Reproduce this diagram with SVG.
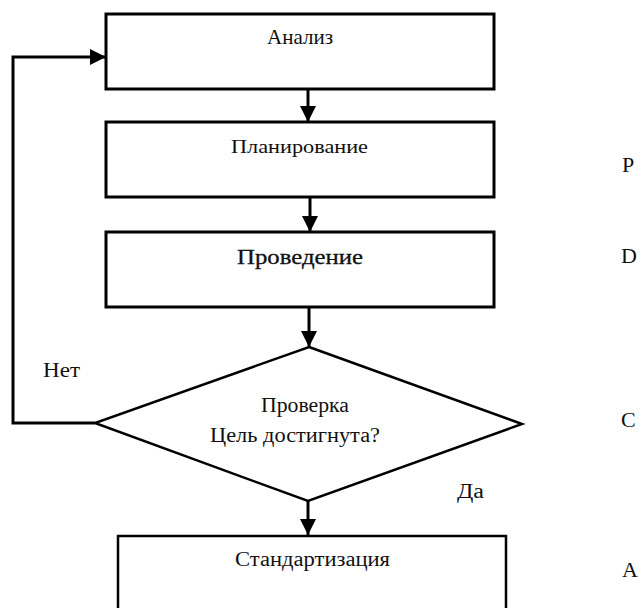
<svg xmlns="http://www.w3.org/2000/svg" width="644" height="608" viewBox="0 0 644 608">
<defs>
<style>
.box{fill:#fff;stroke:#000;stroke-width:3}
.thin{stroke-width:2.5}
.t{font-family:'Liberation Serif','DejaVu Serif','Times New Roman',serif;font-size:21px;fill:#111}
.ln{fill:none;stroke:#000;stroke-width:3}
</style>
<marker id="ah" markerUnits="userSpaceOnUse" markerWidth="16" markerHeight="16" viewBox="0 0 14 14" refX="14" refY="7" orient="auto">
<path d="M0,0 L14,7 L0,14 Z" fill="#000"/>
</marker>
</defs>
<rect width="644" height="608" fill="#fff"/>
<g id="connectors">
<line class="ln" x1="308" y1="89" x2="308" y2="122" marker-end="url(#ah)"/>
<line class="ln" x1="310" y1="197" x2="310" y2="232" marker-end="url(#ah)"/>
<line class="ln" x1="309" y1="307" x2="309" y2="347" marker-end="url(#ah)"/>
<line class="ln" x1="308" y1="501" x2="308" y2="535" marker-end="url(#ah)"/>
<polyline class="ln" points="95,423 13,423 13,57 106,57" marker-end="url(#ah)"/>
</g>
<g id="analiz">
<rect class="box" x="106" y="14" width="388" height="75"/>
<text class="t" x="267" y="44" textLength="66" lengthAdjust="spacingAndGlyphs">Анализ</text>
</g>
<g id="planirovanie">
<rect class="box" x="106" y="122" width="388" height="75"/>
<text class="t" x="231" y="153" style="font-size:19px" textLength="137" lengthAdjust="spacingAndGlyphs">Планирование</text>
</g>
<g id="provedenie">
<rect class="box" x="106" y="232" width="388" height="75"/>
<text class="t" x="237" y="264" style="stroke:#111;stroke-width:0.3" textLength="126" lengthAdjust="spacingAndGlyphs">Проведение</text>
</g>
<g id="proverka">
<polygon class="box thin" points="309,347 522,424 308,501 95,423"/>
<text class="t" x="261" y="412" style="font-size:20px" textLength="88" lengthAdjust="spacingAndGlyphs">Проверка</text>
<text class="t" x="210" y="442" style="font-size:20px" textLength="170" lengthAdjust="spacingAndGlyphs">Цель достигнута?</text>
</g>
<g id="standartizaciya">
<rect class="box thin" x="118" y="536" width="388" height="90"/>
<text class="t" x="235" y="566" style="font-size:20px" textLength="155" lengthAdjust="spacingAndGlyphs">Стандартизация</text>
</g>
<g id="labels">
<text class="t" x="43" y="377" style="font-size:20px" textLength="37" lengthAdjust="spacingAndGlyphs">Нет</text>
<text class="t" x="457" y="498" style="font-size:20px" textLength="27" lengthAdjust="spacingAndGlyphs">Да</text>
<text class="t" x="622" y="172" style="font-size:22px">P</text>
<text class="t" x="621" y="263" style="font-size:22px">D</text>
<text class="t" x="621" y="427" style="font-size:22px">C</text>
<text class="t" x="622" y="577" style="font-size:22px">A</text>
</g>
</svg>
